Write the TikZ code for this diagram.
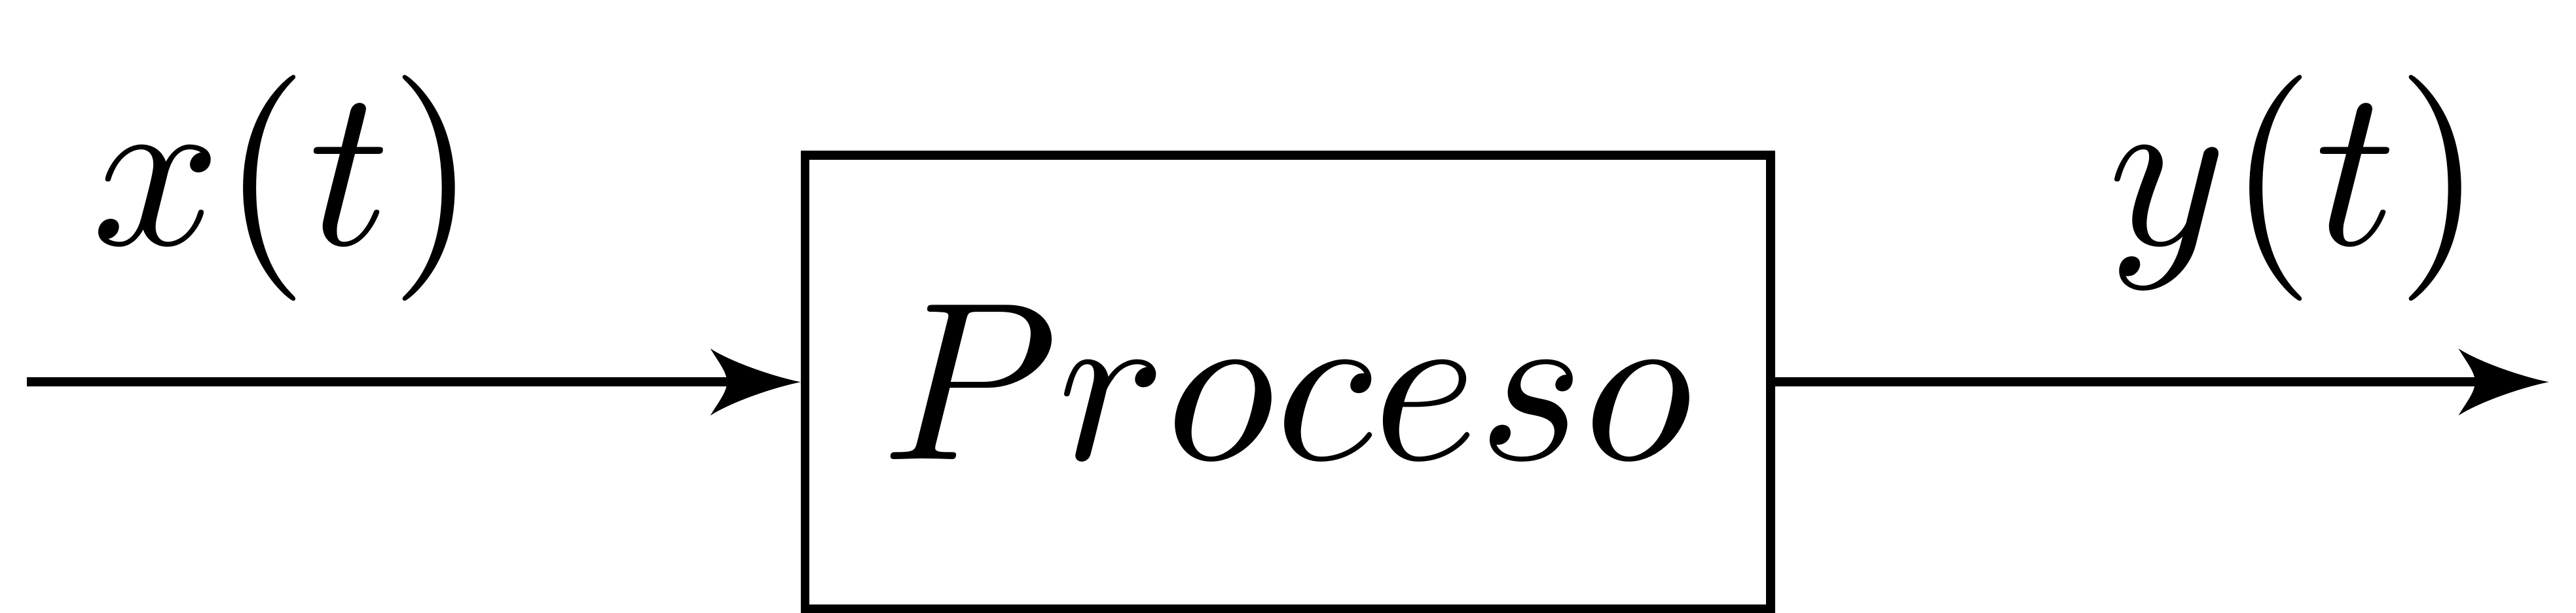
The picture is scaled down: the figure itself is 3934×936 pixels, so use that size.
\documentclass[tikz,border=0pt]{standalone}
\usetikzlibrary{arrows.meta}
\pgfdeclarearrow{
  name = Barb,
  setup code = {
    \pgfarrowssettipend{0pt}
    \pgfarrowssetlineend{-3.0pt}
    \pgfarrowssetbackend{-3.991pt}
    \pgfarrowshullpoint{0pt}{0pt}
    \pgfarrowsupperhullpoint{-3.991pt}{1.478pt}
  },
  drawing code = {
    \pgfpathmoveto{\pgfqpoint{0pt}{0pt}}
    \pgfpathcurveto{\pgfqpoint{-1.159pt}{0.232pt}}{\pgfqpoint{-3.044pt}{0.870pt}}{\pgfqpoint{-3.991pt}{1.478pt}}
    \pgfpathcurveto{\pgfqpoint{-3.623pt}{0.870pt}}{\pgfqpoint{-3.258pt}{0.435pt}}{\pgfqpoint{-3.258pt}{0pt}}
    \pgfpathcurveto{\pgfqpoint{-3.258pt}{-0.435pt}}{\pgfqpoint{-3.623pt}{-0.870pt}}{\pgfqpoint{-3.991pt}{-1.478pt}}
    \pgfpathcurveto{\pgfqpoint{-3.044pt}{-0.870pt}}{\pgfqpoint{-1.159pt}{-0.232pt}}{\pgfqpoint{0pt}{0pt}}
    \pgfpathclose
    \pgfusepathqfill
  }
}
\begin{document}
\begin{tikzpicture}[x=0.028986pt,y=-0.028986pt,line width=0.4pt,
  blockbox/.style={draw,rectangle,minimum width=42.75pt,minimum height=20.09pt,inner sep=0pt},
  sig/.style={inner sep=0pt,anchor=base},
  flow/.style={-{Barb}}]
\useasboundingbox (0,0) rectangle (3934,936);
\node[blockbox] (proc) at (1966.8,583.5) {$Proceso$};
\coordinate (in) at (41.5,583.5);
\coordinate (out) at (3892.3,583.5);
\node[sig] (xlab) at (435,373.75) {$x(t)$};
\node[sig] (ylab) at (3507,373.75) {$y(t)$};
\draw[flow] (in) -- (proc.west);
\draw[flow] (proc.east) -- (out);
\end{tikzpicture}
\end{document}
